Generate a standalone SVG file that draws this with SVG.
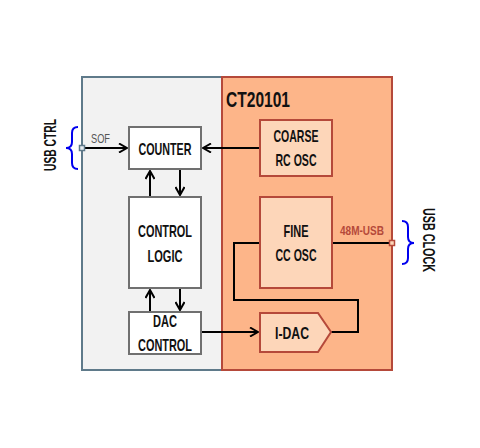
<svg xmlns="http://www.w3.org/2000/svg" width="480" height="448" viewBox="0 0 480 448">
<defs>
<marker id="ah" viewBox="0 0 10 10" refX="9" refY="5" markerWidth="10" markerHeight="10" markerUnits="userSpaceOnUse" orient="auto">
<path d="M1,0.5 L9,5 L1,9.5" fill="none" stroke="#000" stroke-width="2"/>
</marker>
</defs>
<style>
text{font-family:"Liberation Sans",Arimo,sans-serif;font-weight:bold;text-anchor:middle;fill:#111}
.lbl{font-size:17px}
.wbox{fill:#fff;stroke:#707070;stroke-width:2}
.obox{fill:#fdd6b9;stroke:#b5493a;stroke-width:2}
.wire{fill:none;stroke:#000;stroke-width:2}
.brace{fill:none;stroke:#0000ee;stroke-width:2}
</style>
<rect width="480" height="448" fill="#fff"/>
<g id="panel-left"><rect x="82" y="77" width="140" height="293" fill="#f2f2f2" stroke="#5f7a8a" stroke-width="2"/></g>
<g id="panel-right"><rect x="222" y="77" width="170" height="293" fill="#fdb589" stroke="#b5493a" stroke-width="2"/>
<text x="226" y="107" style="font-size:22px;text-anchor:start" textLength="64" lengthAdjust="spacingAndGlyphs">CT20101</text></g>
<g id="connectors">
<path class="wire" d="M84,148 H127" marker-end="url(#ah)"/>
<path class="wire" d="M260,148 H203" marker-end="url(#ah)"/>
<path class="wire" d="M150,197 V171" marker-end="url(#ah)"/>
<path class="wire" d="M180,169 V195" marker-end="url(#ah)"/>
<path class="wire" d="M150,312 V290" marker-end="url(#ah)"/>
<path class="wire" d="M180,288 V310" marker-end="url(#ah)"/>
<path class="wire" d="M201,332 H258" marker-end="url(#ah)"/>
<path class="wire" d="M331,332 H358 V300 H234 V243 H260"/>
<path class="wire" d="M332,243 H390"/>
</g>
<g id="counter"><rect class="wbox" x="129" y="127" width="72" height="42"/><text class="lbl" x="165" y="155" textLength="53" lengthAdjust="spacingAndGlyphs">COUNTER</text></g>
<g id="control-logic"><rect class="wbox" x="129" y="197" width="72" height="91"/><text class="lbl" x="165" y="237" textLength="54" lengthAdjust="spacingAndGlyphs">CONTROL</text><text class="lbl" x="165" y="262" textLength="35" lengthAdjust="spacingAndGlyphs">LOGIC</text></g>
<g id="dac-control"><rect class="wbox" x="129" y="312" width="72" height="42"/><text class="lbl" x="165" y="327" textLength="24" lengthAdjust="spacingAndGlyphs">DAC</text><text class="lbl" x="165" y="351" textLength="54" lengthAdjust="spacingAndGlyphs">CONTROL</text></g>
<g id="coarse-osc"><rect class="obox" x="260" y="120" width="72" height="56"/><text class="lbl" x="296" y="142" textLength="45" lengthAdjust="spacingAndGlyphs">COARSE</text><text class="lbl" x="296" y="166" textLength="41" lengthAdjust="spacingAndGlyphs">RC OSC</text></g>
<g id="fine-osc"><rect class="obox" x="260" y="197" width="72" height="91"/><text class="lbl" x="296" y="237" textLength="25" lengthAdjust="spacingAndGlyphs">FINE</text><text class="lbl" x="296" y="261" textLength="41" lengthAdjust="spacingAndGlyphs">CC OSC</text></g>
<g id="i-dac"><path class="obox" d="M260,313 H318 L331,332 L318,352 H260 Z"/><text class="lbl" x="292" y="339" textLength="34" lengthAdjust="spacingAndGlyphs">I-DAC</text></g>
<g id="sof-port"><rect x="79.5" y="145.5" width="5" height="5" fill="#e8eef2" stroke="#5f7a8a" stroke-width="1.5"/>
<text x="91" y="143" style="font-size:13px;text-anchor:start;fill:#555;font-weight:normal" textLength="19" lengthAdjust="spacingAndGlyphs">SOF</text></g>
<g id="usb-port"><rect x="389.5" y="240.5" width="5" height="5" fill="#fdd6b9" stroke="#b5493a" stroke-width="1.5"/>
<text x="340" y="235" style="font-size:13px;fill:#b5493a;text-anchor:start" textLength="44" lengthAdjust="spacingAndGlyphs">48M-USB</text></g>
<g id="usb-ctrl"><path class="brace" d="M78,127 Q72,127 72,133 V142 Q72,148 66,148 Q72,148 72,154 V163 Q72,169 78,169"/>
<text transform="translate(56,145) rotate(-90)" style="font-size:17px" textLength="52" lengthAdjust="spacingAndGlyphs">USB CTRL</text></g>
<g id="usb-clock"><path class="brace" d="M402,221 Q408,221 408,227 V237 Q408,243 414,243 Q408,243 408,249 V258 Q408,264 402,264"/>
<text transform="translate(423,240) rotate(90)" style="font-size:17px" textLength="64" lengthAdjust="spacingAndGlyphs">USB CLOCK</text></g>
</svg>
